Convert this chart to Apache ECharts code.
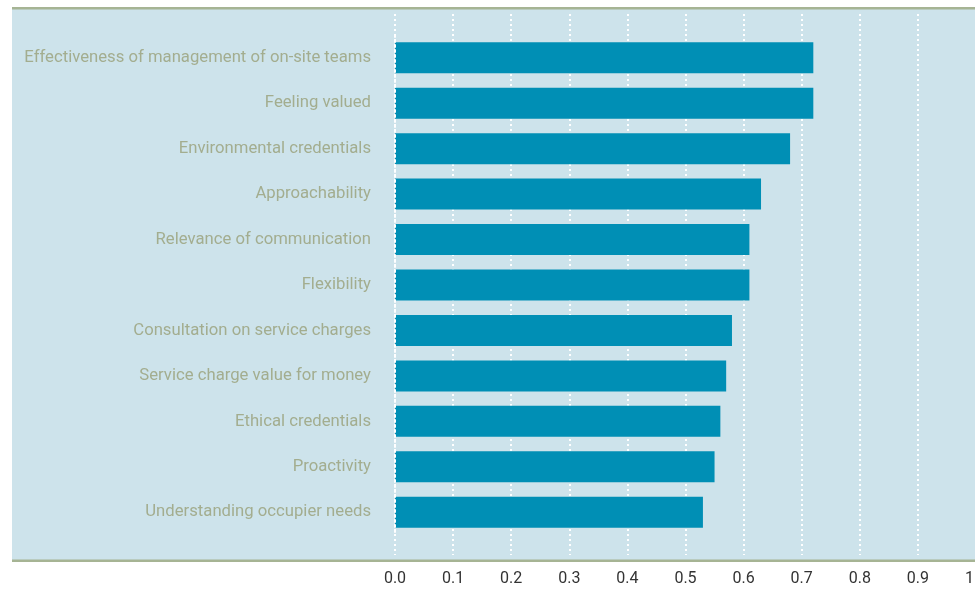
<!DOCTYPE html>
<html><head><meta charset="utf-8">
<script src="https://cdn.jsdelivr.net/npm/echarts@6/dist/echarts.min.js"></script>
<style>html,body{margin:0;padding:0;background:#fff}#c{width:975px;height:595px}</style>
</head><body><div id="c"></div>
<script>
var categories = ["Effectiveness of management of on-site teams","Feeling valued","Environmental credentials","Approachability","Relevance of communication","Flexibility","Consultation on service charges","Service charge value for money","Ethical credentials","Proactivity","Understanding occupier needs"];
var values = [0.72,0.72,0.68,0.63,0.61,0.61,0.58,0.57,0.56,0.55,0.53];
var ticks = [0.0,0.1,0.2,0.3,0.4,0.5,0.6,0.7,0.8,0.9,1.0];

var chart = echarts.init(document.getElementById('c'));
chart.setOption({
  animation:false,
  graphic:[
    {type:'rect',z:-10,shape:{x:12,y:9,width:963,height:552},style:{fill:'#cde3eb'}},
    {type:'rect',z:-9,shape:{x:12,y:7,width:963,height:2.5},style:{fill:'#a6b494'}},
    {type:'rect',z:-9,shape:{x:12,y:559.5,width:963,height:2.5},style:{fill:'#a6b494'}}
  ],
  grid:[
    {left:395,width:581,top:14,height:541,outerBoundsMode:'none',containLabel:false},
    {left:395,width:581,top:35,height:500,outerBoundsMode:'none',containLabel:false}
  ],
  xAxis:[
    {gridIndex:0,type:'value',min:0,max:1,interval:0.1,
     axisLine:{show:false},axisTick:{show:false},
     splitLine:{show:true,lineStyle:{color:'#ffffff',type:[2,3],width:2}},
     axisLabel:{margin:16,color:'#333',fontFamily:'Roboto',fontSize:16,showMaxLabel:true,hideOverlap:false,
       formatter:function(v){return v.toFixed(1);}}},
    {gridIndex:1,type:'value',min:0,max:1,show:false,splitLine:{show:false}}
  ],
  yAxis:[
    {gridIndex:0,type:'value',show:false},
    {gridIndex:1,type:'category',data:categories,inverse:true,
     axisTick:{show:false},
     axisLine:{show:true,lineStyle:{color:'#ffffff',type:[2,3],width:2}},
     z:5,
     axisLabel:{margin:24,color:'#a3ad8f',fontFamily:'Roboto',fontSize:16.7,padding:[3,0,0,0]}}
  ],
  series:[{type:'bar',xAxisIndex:1,yAxisIndex:1,data:values,barWidth:31,
    itemStyle:{color:'#008fb5'},z:2}]
});
</script></body></html>
